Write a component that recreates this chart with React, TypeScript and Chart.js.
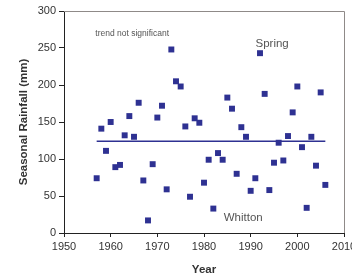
import React, { useEffect, useRef } from "react";
import { Chart, registerables } from "chart.js";

Chart.register(...registerables);

const years: number[] = [
  1957, 1958, 1959, 1960, 1961, 1962, 1963, 1964, 1965, 1966,
  1967, 1968, 1969, 1970, 1971, 1972, 1973, 1974, 1975, 1976,
  1977, 1978, 1979, 1980, 1981, 1982, 1983, 1984, 1985, 1986,
  1987, 1988, 1989, 1990, 1991, 1992, 1993, 1994, 1995, 1996,
  1997, 1998, 1999, 2000, 2001, 2002, 2003, 2004, 2005, 2006,
];
const rainfall: number[] = [
  74, 141, 111, 150, 89, 92, 132, 158, 130, 176,
  71, 17, 93, 156, 172, 59, 248, 205, 198, 144,
  49, 155, 149, 68, 99, 33, 108, 99, 183, 168,
  80, 143, 130, 57, 74, 243, 188, 58, 95, 122,
  98, 131, 163, 198, 116, 34, 130, 91, 190, 65,
];
const trendYears: number[] = [1957, 2006];
const trendValues: number[] = [124, 124];

const xTitle = "Year";
const yTitle = "Seasonal Rainfall (mm)";
const notes = [
  { text: "trend not significant", x: 1964.6, y: 270, size: 8.5 },
  { text: "Spring", x: 1994.6, y: 256, size: 11.5 },
  { text: "Whitton", x: 1988.4, y: 21, size: 11.5 },
];

const FONT = "'Liberation Sans', Arial, sans-serif";
const BLUE = "#2E3192";

const framePlugin = {
  id: "frameAndNotes",
  afterDatasetsDraw(chart: any) {
    const { ctx, chartArea, scales } = chart;
    ctx.save();
    ctx.strokeStyle = "#8f8a88";
    ctx.lineWidth = 1;
    ctx.beginPath();
    ctx.moveTo(chartArea.left, chartArea.top + 0.5);
    ctx.lineTo(chartArea.right + 0.5, chartArea.top + 0.5);
    ctx.lineTo(chartArea.right + 0.5, chartArea.bottom);
    ctx.stroke();
    ctx.textAlign = "center";
    ctx.textBaseline = "middle";
    ctx.fillStyle = "#555555";
    for (const n of notes) {
      ctx.font = `${n.size}px ${FONT}`;
      ctx.fillText(n.text, scales.x.getPixelForValue(n.x), scales.y.getPixelForValue(n.y));
    }
    ctx.restore();
  },
};

export default function App() {
  const ref = useRef<HTMLCanvasElement | null>(null);
  useEffect(() => {
    document.body.style.margin = "0";
    const canvas = ref.current;
    if (!canvas) return;
    const chart = new Chart(canvas, {
      type: "scatter",
      data: {
        datasets: [
          {
            type: "scatter",
            data: years.map((x, i) => ({ x, y: rainfall[i] })),
            pointStyle: "rect",
            pointRadius: 4.2,
            pointBackgroundColor: BLUE,
            pointBorderColor: BLUE,
            pointBorderWidth: 0,
            order: 1,
          },
          {
            type: "line",
            data: trendYears.map((x, i) => ({ x, y: trendValues[i] })),
            borderColor: BLUE,
            borderWidth: 1.3,
            pointRadius: 0,
            fill: false,
            order: 2,
          } as any,
        ],
      },
      options: {
        responsive: false,
        animation: false,
        devicePixelRatio: 1,
        layout: { padding: { top: 11, right: 8, left: 0, bottom: 0 } },
        plugins: { legend: { display: false }, tooltip: { enabled: false } },
        scales: {
          x: {
            type: "linear",
            min: 1950,
            max: 2010,
            grid: { drawOnChartArea: false, tickLength: 4, color: "#222" },
            border: { color: "#222", width: 1 },
            ticks: {
              stepSize: 10,
              color: "#333",
              padding: 3,
              maxRotation: 0,
              font: { family: FONT, size: 11 },
              callback: (v: any) => String(v),
            },
            title: {
              display: true,
              text: xTitle,
              color: "#333",
              font: { family: FONT, size: 11.5, weight: "bold" },
              padding: { top: 0, bottom: 2 },
            },
            afterFit: (s: any) => {
              s.height = 46;
              s.paddingLeft = 0;
              s.paddingRight = 0;
            },
          },
          y: {
            min: 0,
            max: 300,
            grid: { drawOnChartArea: false, tickLength: 5, color: "#222" },
            border: { color: "#222", width: 1 },
            ticks: {
              stepSize: 50,
              color: "#333",
              padding: 3,
              font: { family: FONT, size: 11 },
            },
            title: {
              display: true,
              text: yTitle,
              color: "#333",
              font: { family: FONT, size: 11.5, weight: "bold" },
              padding: { top: 17, bottom: 0 },
            },
            afterFit: (s: any) => {
              s.width = 64;
              s.paddingTop = 0;
              s.paddingBottom = 0;
            },
          },
        },
      },
      plugins: [framePlugin],
    });
    return () => chart.destroy();
  }, []);
  return (
    <div style={{ position: "absolute", left: 0, top: 0, width: 352, height: 279, background: "#fff" }}>
      <canvas ref={ref} width={352} height={279} />
    </div>
  );
}
